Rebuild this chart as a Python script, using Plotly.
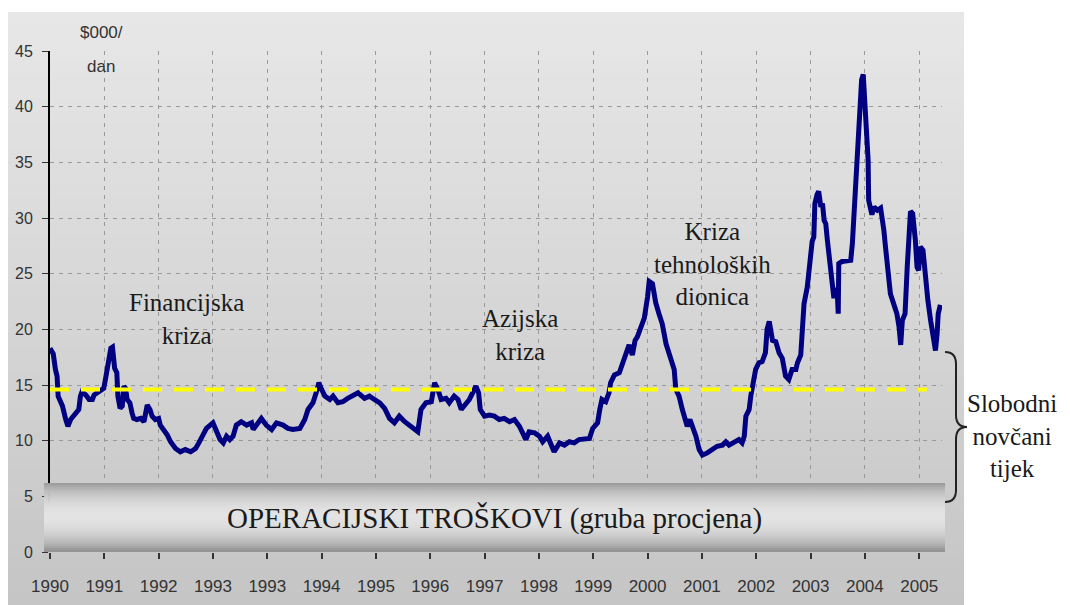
import math
import plotly.graph_objects as go

# ---------------- data ----------------
# position along the category axis (0 = first "1990" tick, 1 unit = one tick step)
period_pos = [
    0.00, 0.06, 0.10, 0.13, 0.15, 0.18, 0.23, 0.29, 0.33, 0.38, 0.44, 0.50, 0.53, 0.56, 0.59,
    0.66, 0.72, 0.78, 0.81, 0.90, 0.99, 1.02, 1.05, 1.08, 1.12, 1.15, 1.18, 1.19, 1.23, 1.25,
    1.29, 1.33, 1.36, 1.39, 1.42, 1.47, 1.51, 1.54, 1.60, 1.67, 1.73, 1.79, 1.84, 1.88, 1.94,
    2.00, 2.03, 2.10, 2.16, 2.22, 2.31, 2.40, 2.49, 2.59, 2.68, 2.74, 2.80,
    2.88, 3.00, 3.06, 3.13, 3.19, 3.25, 3.31, 3.37, 3.43, 3.52, 3.62, 3.71, 3.74, 3.80, 3.89,
    3.98, 4.08, 4.17, 4.29, 4.38, 4.47, 4.60, 4.69, 4.75, 4.84, 4.90, 4.95, 4.99, 5.06, 5.15,
    5.21, 5.30, 5.39, 5.48, 5.58, 5.67,
    5.79, 5.88, 5.97, 6.07, 6.16, 6.25, 6.34, 6.43, 6.53, 6.62, 6.71, 6.77, 6.83, 6.92, 7.02,
    7.08, 7.14, 7.20, 7.29, 7.35, 7.44, 7.51, 7.57, 7.63, 7.72, 7.78, 7.84, 7.89, 7.92, 8.00,
    8.09, 8.18, 8.27, 8.36, 8.46,
    8.55, 8.64, 8.70, 8.76, 8.82, 8.92, 9.01, 9.07, 9.16, 9.22, 9.28, 9.38, 9.47, 9.56, 9.65,
    9.74, 9.83, 9.93, 9.99, 10.08, 10.12, 10.16, 10.23, 10.29, 10.32, 10.39, 10.48, 10.54,
    10.60, 10.66, 10.72, 10.77, 10.81, 10.88, 10.94, 11.00, 11.03, 11.09,
    11.15, 11.21, 11.27, 11.34, 11.43, 11.49, 11.52, 11.58, 11.64, 11.70, 11.73, 11.78, 11.83,
    11.89, 11.95, 12.01, 12.10, 12.19, 12.28, 12.38, 12.44, 12.50, 12.59, 12.68, 12.74, 12.78,
    12.81, 12.87, 12.90, 12.95, 12.99, 13.05, 13.11, 13.17, 13.20, 13.24, 13.27, 13.30, 13.36,
    13.42, 13.48, 13.54, 13.60, 13.66, 13.73, 13.76, 13.82,
    13.85, 13.88, 13.94, 13.97, 14.00, 14.03, 14.06, 14.08, 14.12, 14.15, 14.19, 14.22, 14.25,
    14.28, 14.31, 14.34, 14.37, 14.40, 14.43, 14.46, 14.49, 14.51, 14.52, 14.58, 14.67, 14.74,
    14.77, 14.80, 14.83, 14.86, 14.88, 14.91, 14.94, 14.97, 14.99, 15.01, 15.04, 15.06, 15.07,
    15.10, 15.13, 15.17, 15.23, 15.29, 15.32, 15.35, 15.38, 15.41, 15.44, 15.47, 15.53, 15.59,
    15.63, 15.66, 15.69, 15.74, 15.78, 15.81, 15.84, 15.88, 15.90, 15.93, 15.96, 15.99, 16.02,
    16.07, 16.10, 16.13, 16.16, 16.21, 16.24, 16.30, 16.33, 16.35, 16.39,
]
cash_flow = [  # $000 / dan
    18.3, 17.8, 16.4, 15.8, 14.0, 13.7, 13.1, 11.9, 11.3, 11.9, 12.2, 12.6, 12.8, 14.0, 14.4,
    14.1, 13.7, 13.7, 14.1, 14.4, 14.7, 15.5, 16.5, 17.3, 18.3, 18.4, 17.5, 16.5, 16.1, 14.0,
    12.9, 13.1, 14.9, 14.7, 13.7, 13.4, 12.5, 12.0, 11.9, 12.0, 11.7, 13.2, 12.8, 12.2, 11.9,
    12.0, 11.4, 11.0, 10.5, 9.9, 9.3, 9.0, 9.2, 9.0, 9.3, 9.8, 10.4,
    11.1, 11.6, 11.0, 10.1, 9.8, 10.4, 10.1, 10.4, 11.4, 11.7, 11.4, 11.6, 11.0, 11.4, 12.0,
    11.4, 11.0, 11.6, 11.4, 11.1, 11.0, 11.1, 11.9, 12.8, 13.4, 14.3, 15.2, 14.7, 14.0, 13.7,
    14.0, 13.4, 13.5, 13.8, 14.1, 14.3,
    13.8, 14.0, 13.7, 13.4, 12.9, 12.0, 11.6, 12.2, 11.7, 11.4, 11.0, 10.8, 12.8, 13.4, 13.5,
    15.2, 14.6, 13.7, 13.8, 13.4, 14.0, 13.7, 12.8, 13.1, 13.7, 14.3, 14.9, 14.3, 12.8, 12.2,
    12.3, 12.2, 11.9, 12.0, 11.7,
    11.9, 11.3, 10.7, 10.1, 10.8, 10.7, 10.4, 9.9, 10.4, 9.8, 9.0, 9.8, 9.6, 9.9, 9.8,
    10.1, 10.2, 10.2, 11.1, 11.6, 12.8, 13.7, 13.5, 14.3, 15.2, 15.9, 16.1, 17.0,
    18.0, 18.6, 17.7, 19.0, 19.3, 20.1, 21.0, 22.9, 24.3, 24.1,
    22.4, 21.4, 20.5, 18.7, 17.3, 16.4, 14.6, 14.0, 12.8, 11.9, 11.3, 11.9, 11.3,
    10.4, 9.2, 8.7, 8.9, 9.2, 9.5, 9.6, 9.9, 9.6, 9.9, 10.1, 9.8, 10.4,
    12.2, 12.8, 14.0, 15.2, 16.4, 17.0, 17.1, 17.9, 20.0, 20.7, 20.0, 19.0, 18.9,
    17.9, 17.4, 15.8, 15.5, 16.4, 16.4, 17.0, 17.7,
    19.6, 22.3, 23.8, 25.3, 26.8, 27.9, 28.3, 31.3, 32.1, 32.4, 31.0, 31.3, 29.8,
    29.5, 28.0, 26.5, 24.7, 23.2, 22.8, 23.7, 23.5, 21.4, 25.9, 26.1, 26.2, 26.2,
    27.7, 30.4, 34.0, 36.7, 38.8, 40.3, 42.4, 42.9, 41.2, 39.1, 37.0, 35.2, 31.6,
    31.0, 30.3, 31.0, 30.7, 30.9, 30.1, 28.9, 27.4, 26.2, 24.7, 23.2, 22.3, 21.4,
    20.2, 18.6, 20.8, 21.4, 25.6, 28.3, 30.6, 30.4, 29.5, 28.0, 25.6, 25.3, 27.4,
    27.1, 25.6, 23.8, 22.6, 20.8, 19.6, 18.1, 19.6, 21.4, 22.2,
]
cost_level_x = [0.0, 16.14]
cost_level_y = [14.6, 14.6]
x_tick_labels = ["1990", "1991", "1992", "1993", "1993", "1994", "1995", "1996", "1997",
                 "1998", "1999", "2000", "2001", "2002", "2003", "2004", "2005"]
y_tick_values = [0, 5, 10, 15, 20, 25, 30, 35, 40, 45]

# ---------------- geometry helpers (pixel -> paper) ----------------
W, H = 1070, 605
ML, MR, MT, MB = 50, 128, 51, 53
PW, PH = W - ML - MR, H - MT - MB


def PX(x):
    return (x - ML) / PW


def PY(y):
    return (H - MB - y) / PH


shapes = []

# background panel with vertical gradient
n = 48
y_top, y_bot = 12, 605
for i in range(n):
    f = i / (n - 1)
    c = int(round(231 - (231 - 197) * f))
    ya = y_top + (y_bot - y_top) * i / n
    yb = y_top + (y_bot - y_top) * (i + 1) / n + 0.8
    shapes.append(dict(type="rect", xref="paper", yref="paper", layer="below",
                       x0=PX(8), x1=PX(964), y0=PY(min(yb, y_bot)), y1=PY(ya),
                       line=dict(width=0), fillcolor=f"rgb({c},{c},{c})"))

# operating-cost cylinder bar
nb = 34
b_top, b_bot = 483, 552
for i in range(nb):
    f = (i + 0.5) / nb
    s = math.sin(math.pi * min(1.0, f * 1.04)) ** 0.7
    c = int(round(148 + (227 - 148) * s))
    ya = b_top + (b_bot - b_top) * i / nb
    yb = b_top + (b_bot - b_top) * (i + 1) / nb + 0.6
    shapes.append(dict(type="rect", xref="paper", yref="paper", layer="above",
                       x0=PX(44), x1=PX(945), y0=PY(min(yb, b_bot)), y1=PY(ya),
                       line=dict(width=0), fillcolor=f"rgb({c},{c},{c})"))

# curly brace on the right


def pt(x, y):
    return f"{PX(x):.5f},{PY(y):.5f}"


brace = (f"M {pt(945,352)} C {pt(953,352)} {pt(956,356)} {pt(956,364)} "
         f"L {pt(956,415)} C {pt(956,423)} {pt(960,427)} {pt(967,427)} "
         f"C {pt(960,427)} {pt(956,431)} {pt(956,439)} "
         f"L {pt(956,490)} C {pt(956,498)} {pt(953,502)} {pt(945,502)}")
shapes.append(dict(type="path", xref="paper", yref="paper", layer="above", path=brace,
                   line=dict(color="#222222", width=2)))

serif = "Liberation Serif, Times New Roman, serif"
sans = "Liberation Sans, Arial, sans-serif"


def ann(text, x, y, size, family, color="#1a1a1a"):
    return dict(text=text, x=PX(x), y=PY(y), xref="paper", yref="paper", showarrow=False,
                xanchor="center", yanchor="middle", font=dict(size=size, family=family, color=color))


annotations = [
    ann("$000/", 101, 32, 17, sans, "#333333"),
    ann("dan", 101, 67, 17, sans, "#333333"),
    ann("Financijska<br>kriza", 186, 319, 25, serif),
    ann("Azijska<br>kriza", 520, 335, 25, serif),
    ann("Kriza<br>tehnoloških<br>dionica", 712, 264, 25, serif),
    ann("Slobodni<br>novčani<br>tijek", 1012, 436, 25, serif),
    ann("OPERACIJSKI TROŠKOVI (gruba procjena)", 494, 518, 29, serif),
]

fig = go.Figure()
fig.add_trace(go.Scatter(x=period_pos, y=cash_flow, mode="lines",
                         line=dict(color="#000080", width=5), hoverinfo="skip"))
fig.add_trace(go.Scatter(x=cost_level_x, y=cost_level_y, mode="lines",
                         line=dict(color="#ffff00", width=4, dash="19px,12px"), hoverinfo="skip"))

fig.update_layout(
    width=W, height=H, margin=dict(l=ML, r=MR, t=MT, b=MB, pad=0, autoexpand=False),
    paper_bgcolor="white", plot_bgcolor="rgba(0,0,0,0)", showlegend=False,
    shapes=shapes, annotations=annotations,
    xaxis=dict(range=[0, 16.42], tickmode="array", tickvals=list(range(len(x_tick_labels))),
               ticktext=x_tick_labels, showgrid=True, gridcolor="#999999", gridwidth=1,
               griddash="4px,5px", ticks="outside", ticklen=6, tickwidth=2, tickcolor="#333333",
               showline=False, zeroline=False, ticklabelstandoff=13, automargin=False,
               tickfont=dict(family=sans, size=17, color="#333333")),
    yaxis=dict(range=[0, 45], tickmode="array", tickvals=y_tick_values, showgrid=True,
               gridcolor="#999999", gridwidth=1, griddash="4px,5px", ticks="outside",
               ticklen=6, tickwidth=1, tickcolor="#333333", showline=True, linecolor="black",
               linewidth=2, zeroline=False, ticklabelstandoff=6, automargin=False,
               tickfont=dict(family=sans, size=16, color="#333333")),
)

fig.write_html("out.html", config={"displayModeBar": False},
               post_script="document.body.style.margin='0';document.body.style.overflow='hidden';")
